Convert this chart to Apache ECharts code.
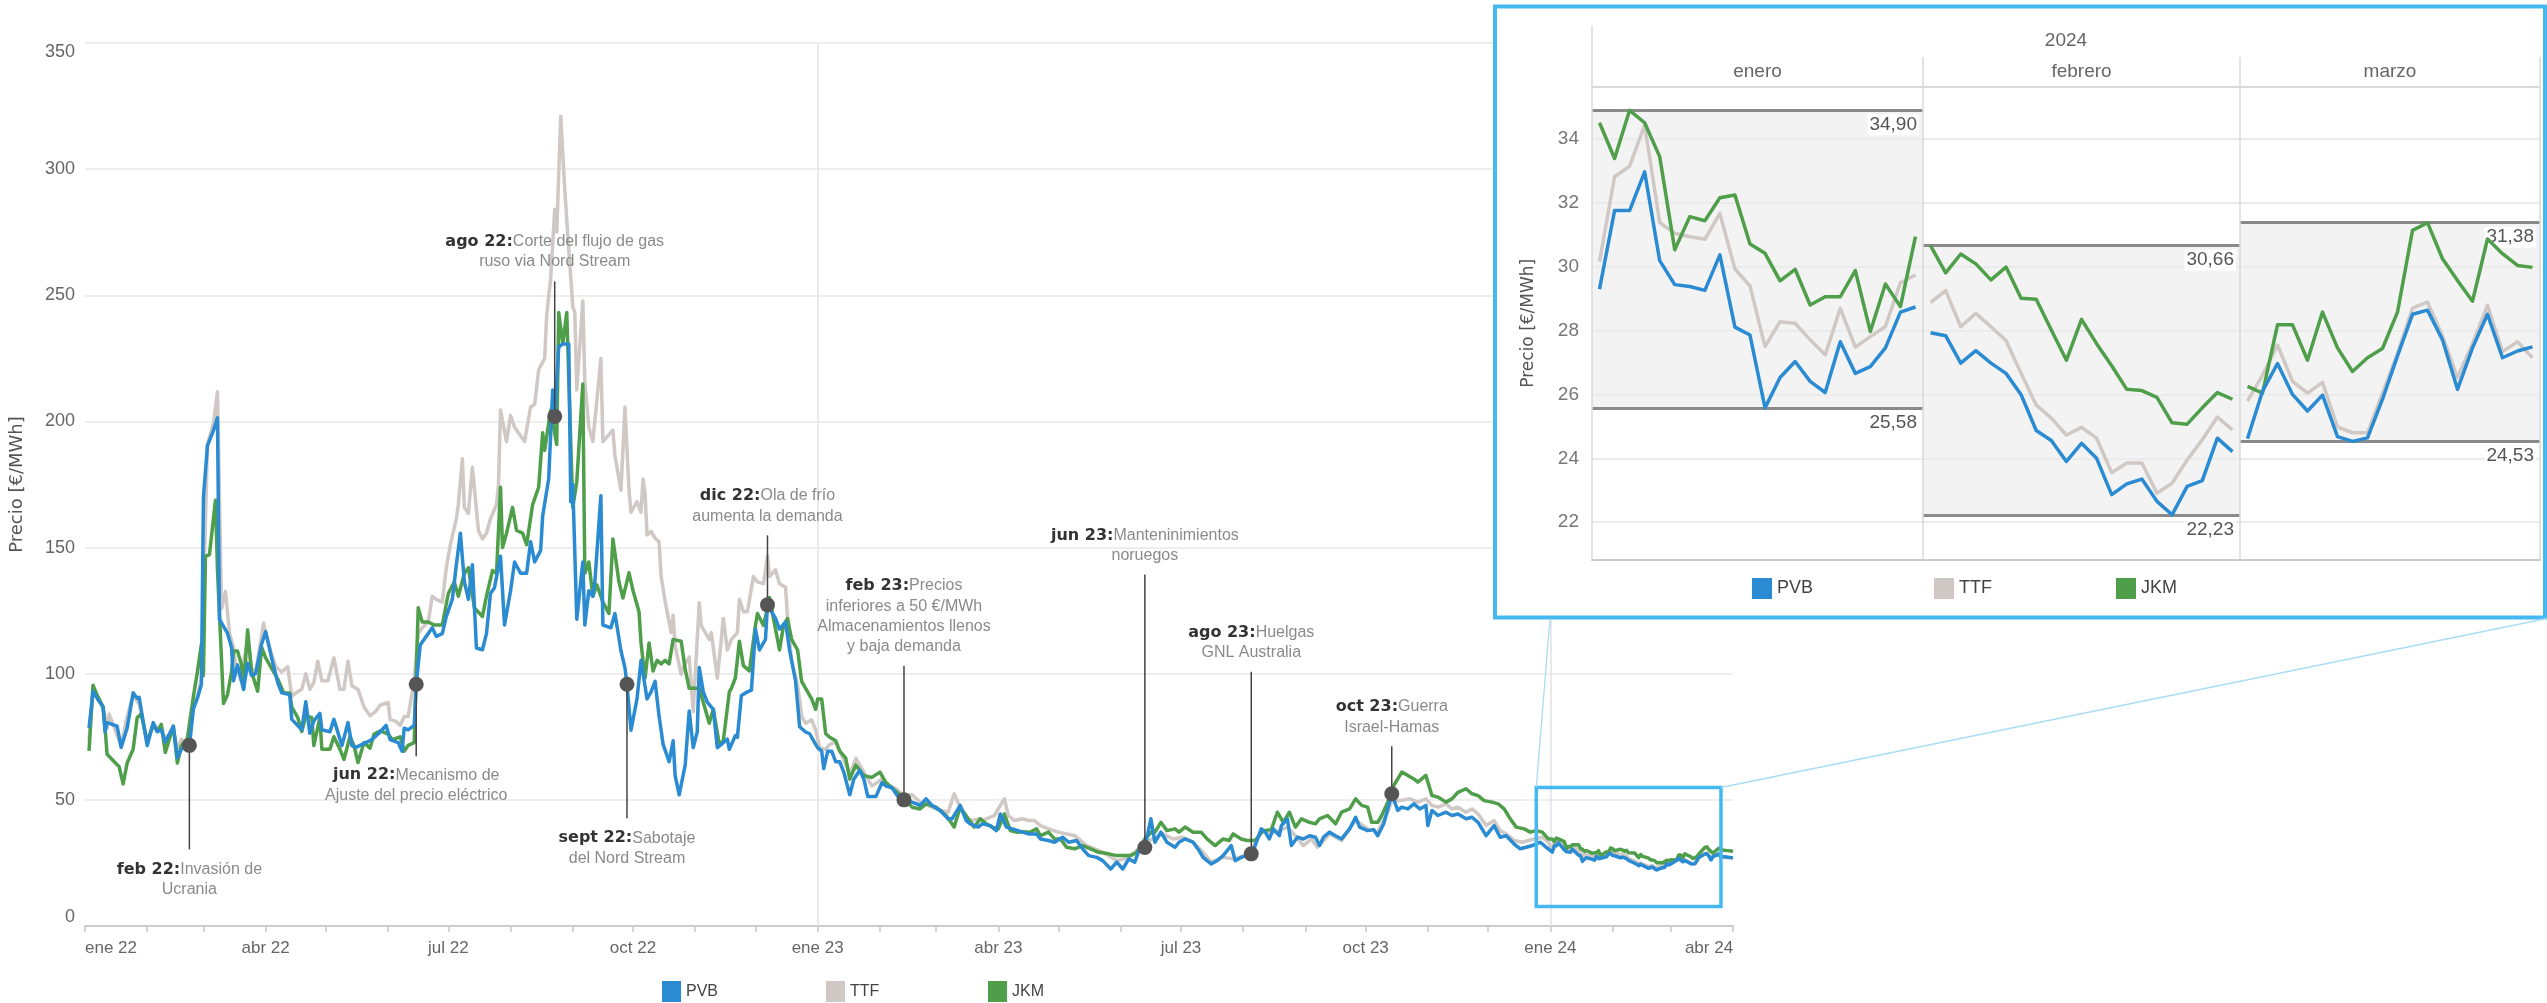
<!DOCTYPE html>
<html lang="es"><head><meta charset="utf-8"><title>Precios del gas PVB TTF JKM</title>
<script src="https://cdn.jsdelivr.net/npm/echarts@6.0.0/dist/echarts.min.js"></script>
<style>html,body{margin:0;padding:0;background:#fff;}#chart{width:2547px;height:1003px;}</style>
</head><body><div id="chart"></div>
<script>
// ---------------- DATA ----------------
// Main chart 2022-2023: [days since 2022-01-01, €/MWh]
const pvbHist = [[2,78.5],[4,93],[6,90.3],[9,86.8],[10,77],[11,80.6],[16,79.2],[18,70.8],[21,78.5],[24,92.4],[26,90.3],[27,90.6],[31,71.5],[34,80.6],[36,77],[38,77.8],[40,72.9],[44,79.2],[46,66.7],[48,70.1],[52,71.6],[54,86.1],[56,90.3],[58,95.8],[59,170],[61,190.3],[64,196.5],[66,201.4],[67,121.5],[71,116],[73,110.4],[74,97.2],[76,103.5],[79,93.8],[81,104.2],[83,99.3],[85,100],[88,111.8],[90,116.7],[93,106.2],[96,96.5],[98,92.4],[102,91.7],[103,81.9],[108,77.8],[110,88.9],[112,76.4],[114,81.3],[117,84.3],[118,77.8],[122,77],[124,81.9],[128,71.5],[131,80.6],[133,71.5],[135,70.8],[137,71.6],[140,72.7],[143,73.9],[146,76.1],[150,79.5],[152,73.9],[156,72.7],[158,69.3],[159,78.4],[161,77.7],[164,79.5],[165,95.8],[167,111.4],[170,114.8],[173,118.2],[175,114.8],[178,115.9],[180,122.7],[183,129.5],[185,143.2],[187,155.7],[189,136.4],[191,129.5],[193,143.2],[195,110.2],[198,109.5],[200,115.9],[202,131.8],[204,134.1],[207,146.6],[209,119.3],[212,132.9],[214,144.3],[217,139.8],[220,139.8],[222,152.3],[224,144.3],[227,148.9],[228,162.5],[231,177.3],[233,212.5],[234,202],[236,229.5],[238,230.7],[241,230.7],[242,168.2],[243,175],[245,121.6],[248,144.3],[249,119.3],[251,132.9],[253,130.7],[254,136.4],[257,170.5],[258,119.3],[262,118.2],[264,123.9],[267,109.1],[269,102.3],[270,95.8],[272,77.6],[275,90],[277,105.3],[280,90],[282,92.8],[284,97],[286,83.1],[288,72],[291,65.1],[293,73.4],[294,59.6],[296,52],[299,63.8],[301,85.2],[303,70.7],[305,76.9],[306,102.5],[308,92.8],[310,88.7],[313,85.9],[315,70.7],[317,72],[320,74.1],[321,70],[324,75.5],[325,74.8],[327,91.4],[330,92.8],[332,93.5],[334,117.7],[336,109.4],[339,113.6],[340,127.3],[344,121.9],[346,117.7],[349,120.5],[351,109.4],[354,97],[356,79],[359,76.9],[361,76.2],[364,72],[365,70.7],[367,69.3],[368,62.4],[370,69.3],[372,69.3],[374,65.1],[376,65.1],[378,61],[381,52],[383,58.2],[386,61.7],[388,58.2],[390,51.3],[394,51.3],[397,56.8],[399,55.5],[402,54.8],[405,51.3],[408,50],[412,49.1],[416,47.8],[419,50.4],[422,47.8],[426,45.8],[430,42.5],[432,42.5],[434,45.1],[436,47.8],[439,41.8],[441,40.5],[445,39.2],[447,40.5],[451,39.8],[454,37.8],[456,44.4],[459,39.2],[462,38.5],[467,37.2],[470,36.5],[474,36.5],[476,34.5],[480,33.9],[483,33.2],[487,35.2],[490,33.2],[494,33.9],[497,30.6],[500,27.9],[504,27.2],[507,25.9],[511,22.6],[514,25.3],[517,22.6],[520,26.6],[523,25.3],[525,29.9],[528,31.1],[531,42.5],[533,33.2],[536,37.2],[539,33.2],[543,31.2],[545,33.2],[548,34.5],[552,33.2],[555,29.9],[557,27.2],[561,24.6],[564,25.9],[567,27.9],[571,31.9],[573,25.9],[576,27.2],[581,28.6],[583,31.9],[586,38.5],[588,37.2],[590,34.5],[592,38.5],[595,35.8],[596,39.8],[599,42.5],[601,31.9],[604,35.2],[607,34.5],[610,35.8],[613,35.2],[615,31.9],[617,35.2],[620,37.2],[623,35.8],[626,34.5],[630,38.5],[633,43.1],[635,39.2],[639,37.8],[642,38.2],[644,35.8],[647,40.5],[649,46.4],[651,52.4],[654,45.8],[656,47.1],[659,46.4],[662,48.4],[665,46.4],[668,47.8],[669,39.8],[671,45.8],[674,43.8],[678,45.1],[681,43.8],[684,44.4],[688,42.5],[691,43.1],[694,41.1],[698,35.8],[702,39.8],[705,35.2],[708,35.8],[712,32.5],[715,30.6],[718,31.2],[721,31.9],[725,33.2],[728,31.2]];

const ttfHist = [[2,73.6],[4,93.8],[6,91],[9,86.8],[11,78.5],[12,84],[16,75.7],[18,71.5],[21,83],[24,91.7],[26,89],[27,88],[31,73],[34,80],[36,78],[38,79],[40,74],[44,78],[46,70],[48,74],[52,72],[54,87],[56,91],[58,98],[61,191],[64,199.3],[66,211.8],[68,125.7],[70,132.6],[72,116],[74,110.4],[75,103.5],[78,96.5],[79,104.9],[81,113.2],[83,102],[85,100.7],[89,120.1],[90,116],[93,107.6],[95,102.8],[98,100.7],[101,102.8],[103,91],[105,92.4],[108,93.8],[110,100],[112,93.8],[114,96.5],[116,104.9],[118,97.2],[121,97.2],[124,106.3],[127,93.8],[129,93.8],[131,104.9],[133,95.1],[136,93.8],[139,86.8],[142,83.3],[145,85.2],[147,87.5],[151,88.6],[152,81.8],[155,81.1],[157,79.5],[159,83],[161,83],[164,97.7],[166,115.9],[168,118.2],[171,120.5],[173,130.7],[175,129.5],[178,128.4],[180,142],[182,151.1],[185,161.4],[186,167],[188,185.2],[189,165.9],[191,163.6],[193,181.8],[196,156.8],[198,153.4],[200,155.7],[202,161.4],[205,167],[206,175],[207,204.5],[210,192],[212,202.3],[214,197.7],[217,194.3],[219,192],[222,205.7],[224,206.8],[226,220.5],[229,225],[230,242],[232,256.8],[234,284.1],[235,275],[237,321],[239,292],[241,268.2],[243,245.5],[244,243.2],[245,212.5],[248,247.7],[249,215.9],[251,197.7],[253,192],[257,225],[258,192],[263,196.6],[264,186.4],[267,172.7],[269,205.7],[271,173],[272,164],[275,168.2],[277,164],[278,177.2],[279,171.6],[280,155],[282,156.4],[284,153.7],[286,152.3],[287,138.5],[289,128.8],[292,116.3],[293,123.2],[294,110.8],[297,99.7],[298,102.5],[301,106.6],[303,85],[306,128.1],[307,119.1],[311,113.6],[312,116.3],[315,98.3],[317,113.6],[318,121.9],[320,109.4],[322,113.6],[325,116.3],[326,129.5],[328,124.6],[330,124.6],[333,138.5],[335,136.4],[338,135.7],[340,146.7],[341,138.5],[344,141.2],[346,135.7],[349,134.3],[350,121.9],[352,105.3],[355,95.6],[357,83.1],[359,80.4],[362,81.7],[364,77.6],[366,70.7],[369,70],[371,72],[374,72.8],[376,69.3],[379,64],[381,60],[384,66.5],[388,61],[392,55.5],[397,58.2],[400,56],[404,54.4],[408,51.7],[412,52],[416,49.1],[424,46.4],[430,45.1],[433,52.4],[436,47.1],[440,42.5],[442,41.8],[446,42.5],[447,41.8],[453,43.8],[456,47.8],[458,50.4],[460,43.8],[463,41.8],[467,42.5],[470,41.8],[473,41.8],[476,39.8],[480,38.5],[485,37.2],[489,36.5],[493,35.8],[495,34.5],[499,31.9],[503,30.6],[507,29.2],[510,27.9],[514,25.9],[518,26.6],[523,29.2],[528,33.2],[532,34.5],[537,36.5],[542,34.5],[547,35.2],[552,33.2],[557,29.2],[561,25.3],[567,27.2],[573,26.6],[580,28.6],[586,37.8],[593,37.2],[599,39.2],[603,35.8],[607,31.9],[611,34.5],[614,31.2],[620,36.5],[626,33.9],[633,41.8],[639,38.5],[644,37.2],[649,45.1],[651,49.7],[655,49.7],[660,50.4],[664,49.1],[668,50.4],[671,47.8],[674,47.1],[678,48.4],[681,46.4],[684,47.1],[688,45.1],[691,46.4],[694,44.4],[698,39.8],[702,41.8],[705,37.8],[708,36.5],[712,33.9],[716,33.2],[719,33.9],[722,34.5],[726,35.2],[729,33.2]];

const jkmHist = [[2,69.4],[4,95.4],[6,91.7],[9,86.8],[10,78.5],[11,68.1],[16,63.9],[17,63.2],[19,56.3],[21,64.6],[24,70.1],[26,82.6],[28,84],[31,72.9],[34,79.9],[36,77.1],[38,79.9],[40,68.8],[44,79.2],[46,64.6],[48,71.5],[51,74.3],[54,91],[56,100.7],[58,111.8],[59,99.3],[60,146.5],[62,147.2],[65,168.8],[66,141],[69,88.2],[71,91.7],[73,100.7],[74,109],[76,109],[78,103.5],[79,93.8],[81,117.4],[83,100.7],[86,93.1],[88,110.4],[90,106.3],[93,102.1],[96,97.9],[99,92.4],[102,92.4],[103,86.8],[106,82.6],[108,77.1],[110,83.3],[113,82.6],[114,71.5],[117,82.6],[118,70.1],[122,70.1],[124,75],[127,70.1],[129,66],[132,75],[134,71.5],[136,64.8],[139,72.7],[142,70.5],[144,76.1],[147,77.3],[151,76.1],[153,73.9],[157,75],[159,69.3],[161,71.6],[164,72.7],[166,126.1],[168,120.5],[171,120.5],[174,119.3],[178,119.3],[181,131.8],[184,136.4],[186,130.7],[189,139.8],[191,142],[194,126.1],[198,122.7],[200,130.7],[203,140.9],[205,139.8],[207,173.9],[208,150],[210,155.7],[213,165.9],[215,156.8],[218,155.7],[220,151.1],[223,167],[226,173.9],[228,195.5],[229,188.6],[232,204.5],[235,190.9],[236,243.2],[238,230.7],[240,243.2],[243,165.9],[245,176.1],[248,214.8],[249,139.8],[251,144.3],[253,130.7],[255,135.2],[258,128.4],[261,123.9],[263,153.4],[266,136.4],[268,130],[271,140],[273,133],[276,124.6],[277,112.2],[279,98.3],[281,112.2],[283,101.1],[285,105.3],[287,103.9],[289,105.3],[291,103.9],[293,113.6],[297,112.9],[299,101.8],[301,94.2],[306,94.2],[308,88.7],[311,80.4],[313,85.9],[316,72],[318,73.4],[321,92.8],[322,94.2],[324,98.3],[326,112.9],[328,103.2],[331,101.1],[334,119.1],[335,123.9],[338,119.1],[340,126],[341,130.2],[344,117.7],[346,109.4],[348,119.1],[350,121.9],[352,113.6],[355,109.4],[357,97],[359,94.2],[362,90],[364,85.9],[365,90],[367,90],[369,76.2],[371,74.8],[374,73.4],[376,69.3],[379,66.5],[381,58.2],[384,63.8],[388,59.6],[392,58.9],[396,61],[399,56.8],[403,54.1],[408,50.6],[412,47.1],[416,46.4],[419,48.4],[424,47.1],[429,43.8],[433,39.2],[436,47.1],[440,42.5],[443,39.2],[446,42.5],[449,40.5],[452,39.2],[455,38.5],[458,44.4],[461,37.8],[464,37.2],[467,37.4],[471,37.2],[474,38.5],[476,35.8],[480,37.2],[483,34.5],[486,34.5],[489,31.2],[493,30.6],[497,31.9],[501,30.6],[505,29.2],[510,28.6],[514,27.9],[517,27.9],[521,27.9],[524,29.2],[528,34.5],[532,37.8],[533,37.2],[536,41.1],[539,37.8],[543,38.5],[545,37.2],[548,39.2],[552,37.2],[556,37.2],[559,34.5],[563,31.9],[567,34.5],[570,33.9],[572,36.5],[576,34.5],[579,33.9],[583,33.9],[587,37.8],[591,38.2],[594,45.1],[597,41.1],[600,45.1],[603,39.2],[606,42.5],[610,41.1],[613,40.5],[615,42.5],[619,43.8],[623,40.5],[626,45.1],[630,46.4],[633,50.4],[636,47.8],[639,47.1],[641,41.1],[644,41.1],[646,43.8],[649,49.1],[652,55.7],[654,58.3],[656,61],[659,59.7],[662,58.3],[664,57],[668,59.7],[671,51.7],[674,51.1],[678,49.1],[681,50.4],[684,53],[688,54.4],[691,52.4],[694,51.7],[697,49.7],[701,49.1],[704,48.4],[707,46.4],[710,42.5],[713,39.2],[717,38.5],[720,37.2],[723,37.8],[726,37.2],[729,34.5]];

// 2024 daily values (inset facets)
const eneroDays   = [2,3,4,5,8,9,10,11,12,15,16,17,18,19,22,23,24,25,26,29,30,31];
const febreroDays = [1,2,5,6,7,8,9,12,13,14,15,16,19,20,21,22,23,26,27,28,29];
const marzoDays   = [1,4,5,6,7,8,11,12,13,14,15,18,19,20,21,22,25,26,27,28];

const pvbEne = [29.3,31.76,31.76,32.97,30.19,29.44,29.38,29.26,30.37,28.11,27.86,25.58,26.53,27.03,26.41,26.06,27.65,26.66,26.87,27.46,28.58,28.74];
const ttfEne = [30.16,32.82,33.15,34.44,31.38,31.05,30.94,30.86,31.67,29.93,29.4,27.5,28.28,28.23,27.71,27.24,28.7,27.48,27.81,28.13,29.5,29.74];
const jkmEne = [34.51,33.39,34.9,34.51,33.45,30.53,31.57,31.44,32.16,32.25,30.71,30.42,29.56,29.92,28.8,29.06,29.06,29.88,27.97,29.46,28.75,30.94];

const pvbFeb = [27.93,27.84,26.98,27.37,26.98,26.66,25.99,24.87,24.56,23.9,24.47,24.0,22.86,23.2,23.35,22.65,22.23,23.12,23.3,24.63,24.21];
const ttfFeb = [28.88,29.25,28.12,28.54,28.12,27.69,26.66,25.67,25.26,24.73,24.97,24.63,23.55,23.85,23.85,22.91,23.22,23.95,24.58,25.29,24.89];
const jkmFeb = [30.66,29.81,30.4,30.09,29.59,29.99,29.01,28.98,28.02,27.07,28.35,27.59,26.9,26.16,26.12,25.91,25.11,25.07,25.58,26.06,25.85];

const pvbMar = [24.61,26.1,26.97,26.0,25.48,25.98,24.68,24.53,24.64,25.85,27.21,28.51,28.64,27.71,26.16,27.46,28.51,27.15,27.36,27.49];
const ttfMar = [25.79,26.6,27.55,26.41,26.04,26.38,24.98,24.8,24.8,26.04,27.28,28.7,28.89,27.83,26.53,27.59,28.79,27.34,27.65,27.15];
const jkmMar = [26.25,26.04,28.18,28.18,27.07,28.58,27.46,26.72,27.15,27.44,28.58,31.14,31.38,30.25,29.57,28.92,30.87,30.41,30.04,29.98];

// 1 April 2024 (end of main axis)
const pvbTail = [[821,27.0]];
const ttfTail = [[821,27.0]];
const jkmTail = [[821,29.6]];

// Axis labels
const xTickLabels = ['ene 22','abr 22','jul 22','oct 22','ene 23','abr 23','jul 23','oct 23','ene 24','abr 24'];
const monthNames = ['enero','febrero','marzo'];
const insetYear = '2024';
const insetTicks = [22,24,26,28,30,32,34];

// Annotations
const noteDates  = ['2022-02-22','2022-06-15','2022-08-23','2022-09-28','2022-12-07','2023-02-13','2023-06-13','2023-08-05','2023-10-14'];
const noteValues = [71.6,95.8,202,95.8,127.3,50,31.1,28.6,52.4];
const noteHeads  = ['feb 22:','jun 22:','ago 22:','sept 22:','dic 22:','feb 23:','jun 23:','ago 23:','oct 23:'];
const noteTexts  = [['Invasión de','Ucrania'],['Mecanismo de','Ajuste del precio eléctrico'],['Corte del flujo de gas','ruso via Nord Stream'],['Sabotaje','del Nord Stream'],['Ola de frío','aumenta la demanda'],['Precios','inferiores a 50 €/MWh','Almacenamientos llenos','y baja demanda'],['Manteninimientos','noruegos'],['Huelgas','GNL Australia'],['Guerra','Israel-Hamas']];

// Zoom window drawn on main chart
const zoomFrom = '2023-12-25', zoomTo = '2024-03-26', zoomLow = 7.7, zoomHigh = 54.9;

// ---------------- LAYOUT / STYLE ----------------
const F = 'Liberation Sans, Arial, sans-serif';
const FW = 'DejaVu Sans, Verdana, sans-serif';
const COL = {PVB:'#2a8bd3', TTF:'#cfc8c4', JKM:'#4e9e4a'};
const BLUE_FRAME = '#45b8f2';
const noteLineDy = [104,72,-135,134,-69.5,-134,-273,-182,-47.6];
const noteTextDy = [124,91,-175,154,-109,-214,-312,-221.5,-87];
const noteLineH = 20.3;
const inset = {frame:[1495,6.5,1050,611], left:[1592,1923,2240], width:[331,317,300], top:87, height:472.5, right:2540, min:20.83, max:35.63};

// ---------------- BUILD ----------------
const DAY = 86400000;
const T0 = Date.UTC(2022,0,1);
const ts = d => T0 + d*DAY;
const parseDate = s => { const p = s.split('-').map(Number); return Date.UTC(p[0], p[1]-1, p[2]); };

function mainData(hist, ene, feb, mar, tail){
  return [].concat(
    hist.map(p => [ts(p[0]), p[1]]),
    eneroDays.map((d,i) => [Date.UTC(2024,0,d), ene[i]]),
    febreroDays.map((d,i) => [Date.UTC(2024,1,d), feb[i]]),
    marzoDays.map((d,i) => [Date.UTC(2024,2,d), mar[i]]),
    tail.map(p => [ts(p[0]), p[1]])
  );
}
const mainSeriesData = {
  PVB: mainData(pvbHist, pvbEne, pvbFeb, pvbMar, pvbTail),
  TTF: mainData(ttfHist, ttfEne, ttfFeb, ttfMar, ttfTail),
  JKM: mainData(jkmHist, jkmEne, jkmFeb, jkmMar, jkmTail)
};
const monthTicks = []; for (let m = 0; m <= 27; m++) monthTicks.push(Date.UTC(2022, m, 1));
const quarterTicks = monthTicks.filter((_, i) => i % 3 === 0);

const facets = [
  {days: eneroDays, PVB: pvbEne, TTF: ttfEne, JKM: jkmEne},
  {days: febreroDays, PVB: pvbFeb, TTF: ttfFeb, JKM: jkmFeb},
  {days: marzoDays, PVB: pvbMar, TTF: ttfMar, JKM: jkmMar}
];
const fmt = v => v.toFixed(2).replace('.', ',');

const grids = [{left:80, right:814, top:43, bottom:77}];
const xAxes = [{
  type:'value', gridIndex:0, min:T0, max:ts(821), z:0,
  axisLine:{show:true, lineStyle:{color:'#cccccc', width:2}},
  axisTick:{show:true, customValues: monthTicks, length:6, lineStyle:{color:'#c8c8c8', width:1.5}},
  splitLine:{show:false},
  axisLabel:{
    customValues: quarterTicks, color:'#666', fontSize:17, fontFamily:F, margin:14, hideOverlap:false,
    formatter: function(value){
      const i = quarterTicks.findIndex(q => Math.abs(q - value) < DAY);
      if (i < 0) return '';
      const s = xTickLabels[i];
      if (i === 0) return '{first|' + s + '}';
      if (i === xTickLabels.length - 1) return '{last|' + s + '}';
      return s;
    },
    rich:{
      first:{padding:[0,0,0,52], color:'#666', fontSize:17, fontFamily:F},
      last:{padding:[0,48,0,0], color:'#666', fontSize:17, fontFamily:F}
    }
  }
}];
const yAxes = [{
  type:'value', gridIndex:0, min:0, max:350, interval:50, z:0,
  name:'Precio [€/MWh]', nameLocation:'middle', nameGap:59,
  nameTextStyle:{fontFamily:FW, fontSize:18, color:'#555'},
  axisLine:{show:false}, axisTick:{show:false},
  splitLine:{show:true, lineStyle:{color:'#eeeeee', width:2}},
  axisLabel:{color:'#666', fontSize:18, fontFamily:F, margin:10,
    formatter: v => v === 350 ? '{t|350}' : (v === 0 ? '{b|0}' : String(v)),
    rich:{t:{padding:[18,0,0,0], color:'#666', fontSize:18, fontFamily:F}, b:{padding:[0,0,18,0], color:'#666', fontSize:18, fontFamily:F}}}
}];

const series = [];
series.push({
  type:'line', xAxisIndex:0, yAxisIndex:0, data:[[T0,0]], showSymbol:false, silent:true, z:0,
  lineStyle:{opacity:0}, tooltip:{show:false},
  markLine:{silent:true, z:0.5, symbol:['none','none'], label:{show:false}, animation:false,
    lineStyle:{color:'#e2e2e2', width:1.5, type:'solid'},
    data:[{xAxis: Date.UTC(2023,0,1)}, {xAxis: Date.UTC(2024,0,1)}]}
});
['TTF','JKM','PVB'].forEach(n => series.push({
  name:n, type:'line', xAxisIndex:0, yAxisIndex:0, data: mainSeriesData[n], showSymbol:false, symbol:'none',
  z:2, color:COL[n], itemStyle:{color:COL[n]}, lineStyle:{color:COL[n], width:3.5, join:'round'}, animation:false
}));
series.push({
  type:'line', xAxisIndex:0, yAxisIndex:0, data:[[T0,0]], showSymbol:false, silent:true, z:3,
  lineStyle:{opacity:0},
  markArea:{silent:true, z:3, animation:false,
    itemStyle:{color:'rgba(0,0,0,0)', borderColor:BLUE_FRAME, borderWidth:3.5},
    data:[[{xAxis: parseDate(zoomFrom), yAxis: zoomHigh}, {xAxis: parseDate(zoomTo), yAxis: zoomLow}]]}
});
series.push({
  type:'scatter', xAxisIndex:0, yAxisIndex:0, z:6, symbolSize:15, silent:true,
  itemStyle:{color:'#555555', opacity:1},
  data: noteDates.map((d,i) => [parseDate(d), noteValues[i]])
});

facets.forEach((f, k) => {
  const gi = k + 1;
  grids.push({left: inset.left[k], top: inset.top, width: inset.width[k], height: inset.height});
  xAxes.push({type:'category', gridIndex:gi, data: f.days.map(String), boundaryGap:true, z:1.6,
    axisLine:{show:true, lineStyle:{color:'#cccccc', width:2}}, axisTick:{show:false}, axisLabel:{show:false}, splitLine:{show:false}});
  yAxes.push({type:'value', gridIndex:gi, min: inset.min, max: inset.max, splitNumber:7, z:1.6,
    axisLine:{show:true, lineStyle:{color:'#d9d9d9', width:1.5}}, axisTick:{show:false}, splitLine:{show:false},
    axisLabel: k === 0 ? {show:true, customValues: insetTicks, color:'#777', fontSize:19, fontFamily:F, margin:13} : {show:false},
    name: k === 0 ? 'Precio [€/MWh]' : '', nameLocation:'middle', nameGap:55,
    nameTextStyle:{fontFamily:FW, fontSize:17, color:'#555'}});
  const all = f.PVB.concat(f.TTF, f.JKM);
  const bMin = Math.min.apply(null, all), bMax = Math.max.apply(null, all);
  series.push({
    type:'line', xAxisIndex:gi, yAxisIndex:gi, data:[null], showSymbol:false, silent:true, z:1.2, lineStyle:{opacity:0},
    markArea:{silent:true, z:1.2, animation:false, itemStyle:{color:'#f3f3f3'}, data:[[{yAxis:bMin},{yAxis:bMax}]]},
    markLine:{silent:true, z:1.4, animation:false, symbol:['none','none'],
      data: insetTicks.map(v => ({yAxis:v, lineStyle:{color:'#ebebeb', width:2, type:'solid'}, label:{show:false}})).concat([
        {yAxis:bMax, lineStyle:{color:'#8a8a8a', width:3, type:'solid'},
          label:{show:true, position:'insideEndBottom', formatter: fmt(bMax), color:'#555', fontSize:19, fontFamily:F, distance:4, backgroundColor:'rgba(255,255,255,0.85)', padding:[1,2]}},
        {yAxis:bMin, lineStyle:{color:'#8a8a8a', width:3, type:'solid'},
          label:{show:true, position:'insideEndBottom', formatter: fmt(bMin), color:'#555', fontSize:19, fontFamily:F, distance:4, backgroundColor:'rgba(255,255,255,0.85)', padding:[1,2]}}
      ])}
  });
  ['TTF','JKM','PVB'].forEach(n => series.push({
    name:n, type:'line', xAxisIndex:gi, yAxisIndex:gi, data: f[n], showSymbol:false, symbol:'none', z:2,
    color:COL[n], itemStyle:{color:COL[n]}, lineStyle:{color:COL[n], width:3.5, join:'round'}, animation:false
  }));
});

const legendCommon = {orient:'horizontal', padding:0, icon:'rect', itemGap:0, selectedMode:false, z:5};
const legends = [
  Object.assign({data:['PVB'], left:662, top:981, itemWidth:19, itemHeight:21, textStyle:{fontFamily:F, fontSize:16, color:'#444'}}, legendCommon),
  Object.assign({data:['TTF'], left:826, top:981, itemWidth:19, itemHeight:21, textStyle:{fontFamily:F, fontSize:16, color:'#444'}}, legendCommon),
  Object.assign({data:['JKM'], left:988, top:981, itemWidth:19, itemHeight:21, textStyle:{fontFamily:F, fontSize:16, color:'#444'}}, legendCommon),
  Object.assign({data:['PVB'], left:1752, top:578, itemWidth:20, itemHeight:21, textStyle:{fontFamily:F, fontSize:18, color:'#444'}}, legendCommon),
  Object.assign({data:['TTF'], left:1934, top:578, itemWidth:20, itemHeight:21, textStyle:{fontFamily:F, fontSize:18, color:'#444'}}, legendCommon),
  Object.assign({data:['JKM'], left:2116, top:578, itemWidth:20, itemHeight:21, textStyle:{fontFamily:F, fontSize:18, color:'#444'}}, legendCommon)
];

const chart = echarts.init(document.getElementById('chart'), null, {renderer:'canvas'});
chart.setOption({
  animation:false, backgroundColor:'#ffffff',
  textStyle:{fontFamily:F},
  grid: grids, xAxis: xAxes, yAxis: yAxes, legend: legends, series: series
});

const g = [];
const fr = inset.frame;
g.push({type:'rect', z:1, silent:true, shape:{x:fr[0], y:fr[1], width:fr[2], height:fr[3]}, style:{fill:'#ffffff', stroke:BLUE_FRAME, lineWidth:4}});
const gridBottom = inset.top + inset.height;
const hdr = {stroke:'#d9d9d9', lineWidth:1.5};
g.push({type:'line', z:1.6, silent:true, shape:{x1:inset.left[0], y1:25.7, x2:inset.left[0], y2:inset.top}, style:hdr});
g.push({type:'line', z:1.6, silent:true, shape:{x1:inset.left[1], y1:57, x2:inset.left[1], y2:inset.top}, style:hdr});
g.push({type:'line', z:1.6, silent:true, shape:{x1:inset.left[2], y1:57, x2:inset.left[2], y2:inset.top}, style:hdr});
g.push({type:'line', z:1.6, silent:true, shape:{x1:inset.right, y1:57, x2:inset.right, y2:gridBottom}, style:hdr});
g.push({type:'line', z:1.6, silent:true, shape:{x1:inset.left[0], y1:inset.top, x2:inset.right, y2:inset.top}, style:{stroke:'#d9d9d9', lineWidth:2}});
g.push({type:'text', z:1.6, silent:true, x:(inset.left[0]+inset.right)/2, y:40.7, style:{text:insetYear, align:'center', verticalAlign:'middle', fill:'#666', font:'19px ' + F}});
monthNames.forEach((m,k) => g.push({type:'text', z:1.6, silent:true, x: inset.left[k] + inset.width[k]/2, y:72,
  style:{text:m, align:'center', verticalAlign:'middle', fill:'#666', font:'19px ' + F}}));

const pTL = chart.convertToPixel({xAxisIndex:0, yAxisIndex:0}, [parseDate(zoomFrom), zoomHigh]);
const pTR = chart.convertToPixel({xAxisIndex:0, yAxisIndex:0}, [parseDate(zoomTo), zoomHigh]);
g.push({type:'line', z:4, silent:true, shape:{x1:pTL[0], y1:pTL[1], x2:1550, y2:618.5}, style:{stroke:'#a9dcf3', lineWidth:1.3}});
g.push({type:'line', z:4, silent:true, shape:{x1:pTR[0], y1:pTR[1], x2:2547, y2:618.5}, style:{stroke:'#a9dcf3', lineWidth:1.3}});

const rich = {
  b:{fontFamily:FW, fontWeight:'bold', fontSize:16, fill:'#333', color:'#333'},
  r:{fontFamily:F, fontSize:16, fill:'#8a8a8a', color:'#8a8a8a'}
};
noteDates.forEach((d,i) => {
  const p = chart.convertToPixel({xAxisIndex:0, yAxisIndex:0}, [parseDate(d), noteValues[i]]);
  g.push({type:'line', z:4, silent:true, shape:{x1:p[0], y1:p[1], x2:p[0], y2:p[1] + noteLineDy[i]}, style:{stroke:'#444', lineWidth:1.5}});
  noteTexts[i].forEach((t,k) => {
    const txt = k === 0 ? '{b|' + noteHeads[i] + '}{r|' + t + '}' : '{r|' + t + '}';
    g.push({type:'text', z:4, silent:true, x:p[0], y:p[1] + noteTextDy[i] + k*noteLineH,
      style:{text:txt, rich:rich, align:'center', verticalAlign:'middle'}});
  });
});
chart.setOption({graphic: g});
</script>
</body></html>
